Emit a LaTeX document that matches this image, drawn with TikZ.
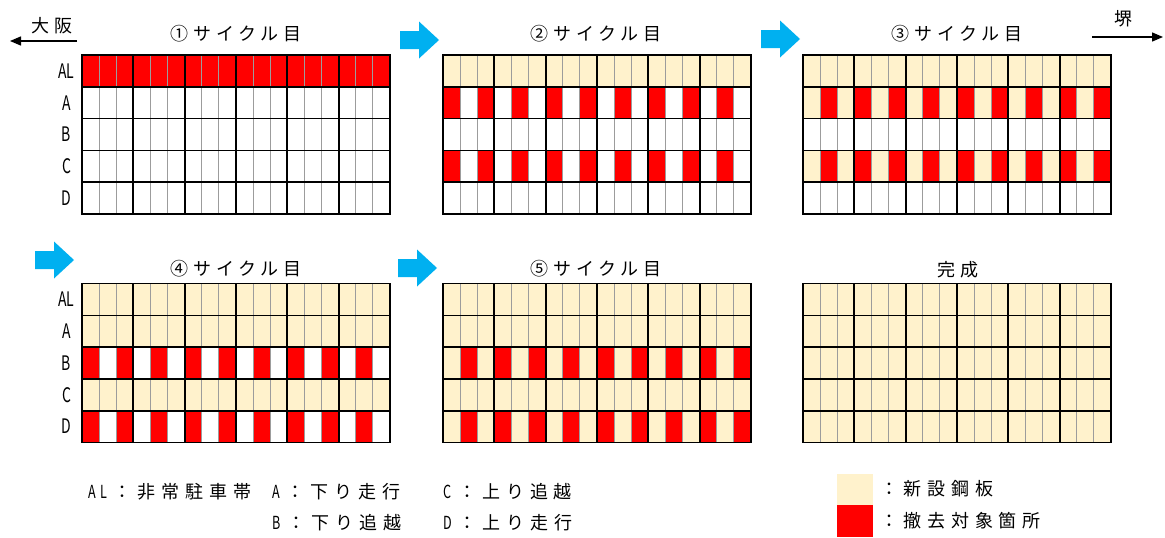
\documentclass[tikz,border=0pt]{standalone}
\usepackage{graphicx}
\usepackage{fontspec}
\setmainfont{Noto Sans CJK JP}
\newfontfamily\jpfont[LetterSpace=26]{Noto Sans CJK JP}
\newfontfamily\keyfont[LetterSpace=33]{Noto Sans CJK JP}
\usetikzlibrary{arrows.meta}
\definecolor{cutred}{HTML}{FF0000}
\definecolor{newplate}{HTML}{FFF2CC}
\definecolor{arrowblue}{HTML}{00B0F0}
\definecolor{seamgray}{HTML}{9C9C9C}
\def\colw{17.11}
\def\rowh{31.8}
\newcommand{\nrw}[1]{\scalebox{0.7}[1]{#1}}
\newcommand{\plategrid}[2]{%
  \begin{scope}[shift={#1}]
    \foreach \oc/\ec [count=\r from 0] in {#2} {
      \foreach \c in {0,2,...,16}
        \fill[\oc] (\c*\colw,\r*\rowh) rectangle ++(\colw,\rowh);
      \foreach \c in {1,3,...,17}
        \fill[\ec] (\c*\colw,\r*\rowh) rectangle ++(\colw,\rowh);
    }
    \foreach \c in {1,...,17}
      \draw[seam] (\c*\colw,0) -- (\c*\colw,5*\rowh);
    \foreach \r in {1,...,4}
      \draw[joint] (0,\r*\rowh) -- (18*\colw,\r*\rowh);
    \foreach \g in {3,6,9,12,15}
      \draw[joint, line width=1.9pt] (\g*\colw,0) -- (\g*\colw,5*\rowh);
    \draw[joint] (0,0) rectangle (18*\colw,5*\rowh);
  \end{scope}}

\begin{document}
\begin{tikzpicture}[
  x=1pt, y=-1pt,
  seam/.style={draw=seamgray, line width=0.9pt},
  joint/.style={draw=black, line width=1.6pt},
  title/.style={font=\jpfont\fontsize{18}{18}\selectfont, inner sep=0pt},
  rowlab/.style={font=\fontsize{20}{20}\selectfont, inner sep=0pt},
  legtext/.style={font=\keyfont\fontsize{18}{18}\selectfont, inner sep=0pt, anchor=west},
  swatch/.style={minimum width=36pt, minimum height=31.5pt, inner sep=0pt},
  cityarrow/.style={-{Triangle[length=11pt,width=9pt]}, line width=1.3pt},
  blockarrow/.pic={\fill[arrowblue] (0,-9) -- (19,-9) -- (19,-18.5) -- (39,0) -- (19,18.5) -- (19,9) -- (0,9) -- cycle;}
]
  \fill[white] (0,0) rectangle (1165,538);
  \useasboundingbox (0,0) rectangle (1165,538);

  \plategrid{(82,55)}{cutred/cutred, white/white, white/white, white/white, white/white}
  \plategrid{(443,55)}{newplate/newplate, cutred/white, white/white, cutred/white, white/white}
  \plategrid{(803,55)}{newplate/newplate, newplate/cutred, white/white, newplate/cutred, white/white}
  \plategrid{(82,283.5)}{newplate/newplate, newplate/newplate, cutred/white, newplate/newplate, cutred/white}
  \plategrid{(443,283.5)}{newplate/newplate, newplate/newplate, newplate/cutred, newplate/newplate, newplate/cutred}
  \plategrid{(803,283.5)}{newplate/newplate, newplate/newplate, newplate/newplate, newplate/newplate, newplate/newplate}

  \node[title] (t1) at (236,34) {①サイクル目};
  \node[title] (t2) at (596,34) {②サイクル目};
  \node[title] (t3) at (957,34) {③サイクル目};
  \node[title] (t4) at (236,269) {④サイクル目};
  \node[title] (t5) at (596,269) {⑤サイクル目};
  \node[title] (t6) at (958,270) {完成};

  \foreach \lab [count=\r from 0] in {AL,A,B,C,D} {
    \node[rowlab] (la\lab) at (66.5,55+\r*\rowh+0.5*\rowh) {\nrw{\lab}};
    \node[rowlab] (lb\lab) at (66.5,283.5+\r*\rowh+0.5*\rowh) {\nrw{\lab}};
  }

  \pic (a1) at (400,40) {blockarrow};
  \pic (a2) at (761,39) {blockarrow};
  \pic (a3) at (35,260) {blockarrow};
  \pic (a4) at (398,268) {blockarrow};

  \node[title] (osaka) at (52,26) {大阪};
  \coordinate (osakaS) at (77,41);
  \coordinate (osakaE) at (10,41);
  \draw[cityarrow] (osakaS) -- (osakaE);
  \node[title] (sakai) at (1123,19) {堺};
  \coordinate (sakaiS) at (1092,37);
  \coordinate (sakaiE) at (1163,37);
  \draw[cityarrow] (sakaiS) -- (sakaiE);

  \node[legtext] (kAL) at (88,492) {\nrw{AL}\hspace{7pt}：非常駐車帯};
  \node[legtext] (kA) at (272,492) {\nrw{A}\hspace{7pt}：下り走行};
  \node[legtext] (kC) at (443,492) {\nrw{C}\hspace{7pt}：上り追越};
  \node[legtext] (kB) at (272,523) {\nrw{B}\hspace{7pt}：下り追越};
  \node[legtext] (kD) at (443,523) {\nrw{D}\hspace{7pt}：上り走行};

  \node[swatch, fill=newplate] (kNew) at (855,489.5) {};
  \node[swatch, fill=cutred] (kCut) at (855,521) {};
  \node[legtext] (kNewT) at (880,489) {：\hspace{5pt}新設鋼板};
  \node[legtext] (kCutT) at (880,521) {：\hspace{5pt}撤去対象箇所};
\end{tikzpicture}
\end{document}
